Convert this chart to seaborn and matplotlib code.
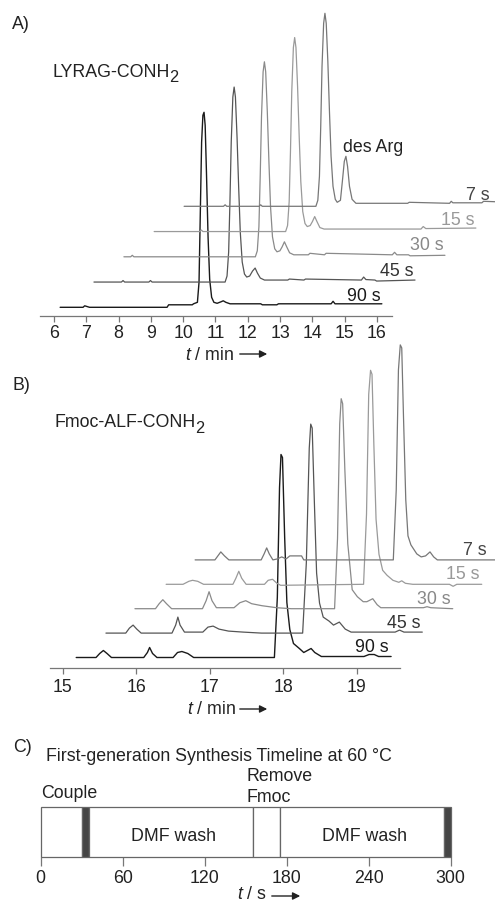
import numpy as np
import pandas as pd
import matplotlib
matplotlib.use("Agg")
import matplotlib.pyplot as plt
import seaborn as sns

# =============================================================================
# data
# retention time in min, signal in arbitrary units above the trace's own baseline
# stack order: 90 s in front, 7 s at the back
# =============================================================================

coupling_times = ["90 s", "45 s", "30 s", "15 s", "7 s"]

# A) LYRAG-CONH2
a90_t = [6.19, 6.90, 6.95, 7.00, 7.10, 9.50, 9.55, 10.28, 10.32, 10.44, 10.49, 10.53, 10.57,
         10.61, 10.645, 10.68, 10.72, 10.77, 10.82, 10.88, 10.95, 11.05, 11.17, 11.24, 11.32,
         11.45, 12.40, 12.45, 12.90, 12.95, 14.58, 14.64, 14.70, 16.15]
a90_y = [0, 0, 1.5, 1, 0, 0, 2.5, 2.5, 3.5, 5, 25, 95, 165,
         192, 195, 182, 135, 70, 28, 10, 5, 4, 5.5, 6.5, 5,
         3.5, 3.5, 2.5, 2.5, 3.5, 3.5, 6, 3.5, 3.5]

a45_t = [6.30, 7.15, 7.20, 7.25, 8.00, 8.05, 8.10, 10.36, 10.42, 10.47, 10.51, 10.55, 10.60,
         10.64, 10.68, 10.73, 10.78, 10.83, 10.89, 10.96, 11.03, 11.12, 11.21, 11.29, 11.36,
         11.45, 11.58, 12.30, 12.35, 12.80, 12.85, 14.58, 14.65, 14.72, 15.00, 15.05, 16.24]
a45_y = [0, 0, 1.5, 0, 0, 1.5, 0, 0, 6, 30, 80, 140, 185,
         195, 185, 145, 95, 50, 20, 8, 5, 6, 11, 14, 9,
         4, 2, 2, 3, 2, 3, 2, 5, 2.5, 2, 1, 2]

a30_t = [6.29, 6.50, 6.55, 6.60, 10.36, 10.42, 10.47, 10.51, 10.55, 10.60, 10.64, 10.68,
         10.73, 10.78, 10.83, 10.89, 10.96, 11.03, 11.12, 11.19, 11.26, 11.33, 11.42, 11.55,
         12.00, 12.05, 12.50, 12.55, 14.60, 14.67, 14.74, 15.10, 15.15, 16.23]
a30_y = [0, 0, 1.5, 0, 0, 6, 30, 80, 140, 185, 195, 185,
         145, 95, 50, 20, 8, 5, 6, 10, 15, 10, 4, 2,
         2, 3.5, 2, 3.5, 2, 4.5, 2, 2, 1, 1.5]

a15_t = [6.29, 7.70, 7.75, 7.80, 10.36, 10.42, 10.47, 10.51, 10.55, 10.60, 10.64, 10.68,
         10.73, 10.78, 10.83, 10.89, 10.96, 11.03, 11.12, 11.19, 11.26, 11.33, 11.42, 11.55,
         14.55, 14.62, 14.70, 16.25]
a15_y = [0, 0, 1.5, 0, 0, 6, 30, 80, 140, 184, 194, 184,
         145, 95, 50, 20, 8, 5, 6, 10, 15, 10, 4, 2.5,
         2.5, 5, 3, 3.5]

a7_t = [6.28, 7.50, 7.55, 7.60, 8.60, 8.65, 8.70, 10.36, 10.42, 10.47, 10.51, 10.55, 10.60,
        10.64, 10.68, 10.73, 10.78, 10.83, 10.89, 10.96, 11.02, 11.12, 11.18, 11.24, 11.29,
        11.34, 11.40, 11.48, 11.60, 13.20, 13.25, 14.50, 14.55, 14.60, 15.50, 15.55, 16.40]
a7_y = [0, 0, 1.5, 0, 0, 1.5, 0, 0, 6, 30, 80, 140, 183,
        193, 183, 145, 95, 50, 20, 7, 4, 6, 25, 45, 50,
        40, 20, 7, 3, 3, 4, 3, 5, 3.5, 3.5, 5, 4]

# B) Fmoc-ALF-CONH2
b90_t = [15.18, 15.45, 15.50, 15.55, 15.60, 15.66, 16.10, 16.15, 16.18, 16.22, 16.28, 16.50,
         16.56, 16.62, 16.70, 16.78, 17.88, 17.92, 17.95, 17.97, 17.99, 18.02, 18.05, 18.09,
         18.14, 18.22, 18.28, 18.33, 18.38, 18.43, 18.52, 19.10, 19.17, 19.24, 19.30, 19.47]
b90_y = [0, 0, 4, 7, 4, 0, 0, 5, 10, 4, 0, 0,
         5, 6, 4, 0, 0, 60, 170, 203, 200, 120, 55, 28,
         14, 9, 5, 7, 9, 5, 1, 1, 3, 3, 1, 1]

b45_t = [15.18, 15.45, 15.50, 15.55, 15.60, 15.66, 16.08, 16.13, 16.16, 16.19, 16.25, 16.50,
         16.57, 16.64, 16.72, 16.85, 17.05, 17.30, 17.86, 17.91, 17.95, 17.97, 17.99, 18.02,
         18.05, 18.09, 18.14, 18.22, 18.28, 18.36, 18.44, 18.52, 19.12, 19.18, 19.24, 19.49]
b45_y = [0, 0, 5, 8, 4, 0, 0, 8, 16, 8, 1, 1,
         6, 7, 4, 2, 1, 0, 0, 70, 185, 209, 205, 130,
         60, 30, 16, 12, 8, 11, 4, 1, 1, 3, 1, 1]

b30_t = [15.17, 15.45, 15.50, 15.55, 15.60, 15.67, 16.09, 16.14, 16.18, 16.22, 16.28, 16.52,
         16.60, 16.68, 16.76, 16.90, 17.10, 17.30, 17.89, 17.93, 17.96, 17.98, 18.00, 18.03,
         18.07, 18.13, 18.20, 18.28, 18.33, 18.41, 18.47, 18.52, 19.10, 19.15, 19.20, 19.50]
b30_y = [0, 0, 5, 9, 5, 0, 0, 8, 17, 8, 1, 1,
         6, 8, 5, 3, 1, 0, 0, 70, 185, 210, 205, 139,
         65, 19, 12, 7, 7, 10, 4, 1, 1, 2, 1, 0]

b15_t = [15.19, 15.42, 15.50, 15.55, 15.62, 15.70, 16.10, 16.14, 16.18, 16.22, 16.28, 16.53,
         16.58, 16.64, 16.70, 16.75, 17.88, 17.92, 17.95, 17.975, 17.995, 18.02, 18.05, 18.09,
         18.14, 18.20, 18.28, 18.36, 18.40, 18.45, 18.55, 19.05, 19.10, 19.15, 19.49]
b15_y = [0, 0, 3, 4, 3, 0, 0, 6, 13, 6, 0, 0,
         4, 5, 1, -1, 0, 70, 190, 214, 210, 140, 65, 30,
         14, 9, 4, 2, 3.5, 1, 0, 0, -2, 0, 0]

b7_t = [15.18, 15.45, 15.49, 15.53, 15.58, 15.64, 16.08, 16.12, 16.155, 16.19, 16.24, 16.30,
        16.36, 16.42, 16.47, 16.63, 16.66, 17.88, 17.92, 17.95, 17.975, 17.995, 18.02, 18.05,
        18.08, 18.12, 18.20, 18.26, 18.32, 18.38, 18.43, 18.48, 19.50]
b7_y = [0, 0, 4, 8, 4, 0, 0, 6, 12, 6, 0, 1,
        3, 1, 4, 4, 0, 0, 70, 190, 215, 212, 140, 60,
        24, 15, 6, 3, 4, 8, 3, 0, 0]

# C) synthesis timeline (s)
seg_start = [0, 30, 35, 155, 175, 295]
seg_end = [30, 35, 155, 175, 295, 300]
seg_kind = ["couple", "drain", "wash", "deprotect", "wash", "drain"]
seg_text = ["", "", "DMF wash", "", "DMF wash", ""]

a_ticks = list(range(6, 17))
b_ticks = [15, 16, 17, 18, 19]
c_ticks = [0, 60, 120, 180, 240, 300]

# =============================================================================
# style
# =============================================================================

sns.set_style("white")
plt.rcParams["font.family"] = ["Liberation Sans", "DejaVu Sans"]
plt.rcParams["mathtext.fontset"] = "custom"
plt.rcParams["mathtext.rm"] = "Liberation Sans"
plt.rcParams["mathtext.it"] = "Liberation Sans:italic"

W, H = 495, 904
FS = 12.8
TXT = "#222222"
AXC = "#777777"
line_colors = ["#1a1a1a", "#555555", "#8a8a8a", "#9a9a9a", "#777777"]
label_colors = ["#1a1a1a", "#333333", "#888888", "#999999", "#444444"]

fig = plt.figure(figsize=(W / 100, H / 100), dpi=100)
renderer = fig.canvas.get_renderer()


def px_axes(x0, y0, x1, y1):
    """axes from pixel box (top based)"""
    return fig.add_axes([x0 / W, 1 - y1 / H, (x1 - x0) / W, (y1 - y0) / H])


def px_text(x, y, s, **kw):
    kw.setdefault("fontsize", FS)
    kw.setdefault("color", TXT)
    return fig.text(x / W, 1 - y / H, s, **kw)


def px_formula(x, y, main, sub, drop):
    # peptide name with a near full-size subscript, as in the original artwork
    t = px_text(x, y, main, va="baseline")
    w = t.get_window_extent(renderer).width
    px_text(x + w - 1.5, y + drop, sub, va="baseline", fontsize=FS * 0.92)


def px_arrow(x0, x1, y):
    fig.add_artist(matplotlib.patches.FancyArrowPatch(
        (x0 / W, 1 - y / H), (x1 / W, 1 - y / H), transform=fig.transFigure,
        arrowstyle="-|>", mutation_scale=11, color=TXT, lw=1.0))


def draw_stack(ax, traces, dx, dy, lab_dy, lab_cap, lab_back):
    for i, (t, y) in enumerate(traces):
        df = pd.DataFrame({"t": np.asarray(t) + i * dx, "y": np.asarray(y) + i * dy})
        sns.lineplot(data=df, x="t", y="y", ax=ax, color=line_colors[i],
                     lw=1.0 if i == 0 else 0.9, estimator=None, sort=False)
        xr = min(t[-1] + i * dx - lab_back, lab_cap)
        ax.text(xr, i * dy + lab_dy, coupling_times[i], ha="right", va="baseline",
                fontsize=FS, color=label_colors[i])


def style_axis(ax, ticks, lo, hi, pad):
    for s in ["left", "right", "top"]:
        ax.spines[s].set_visible(False)
    ax.spines["bottom"].set_color(AXC)
    ax.spines["bottom"].set_linewidth(0.9)
    ax.spines["bottom"].set_bounds(lo, hi)
    ax.set_xticks(ticks)
    ax.set_xticklabels([str(v) for v in ticks])
    ax.set_yticks([])
    ax.tick_params(axis="x", direction="out", length=4.3, width=0.9, color=AXC,
                   labelsize=FS, labelcolor=TXT, pad=pad, bottom=True)
    ax.set_xlabel("")
    ax.set_ylabel("")
    ax.patch.set_alpha(0)


# ---- panel A
ax_a = px_axes(0, 0, W, 317.3)
draw_stack(ax_a, [(a90_t, a90_y), (a45_t, a45_y), (a30_t, a30_y), (a15_t, a15_y), (a7_t, a7_y)],
           dx=0.937, dy=25.25, lab_dy=7.5, lab_cap=19.50, lab_back=0.05)
ax_a.set_xlim(6 - 54 / 32.3, 6 + 441 / 32.3)
ax_a.set_ylim(-9.0, 308.3)
style_axis(ax_a, a_ticks, 5.567, 16.464, 1.5)

# ---- panel B
ax_b = px_axes(0, 330, W, 669)
draw_stack(ax_b, [(b90_t, b90_y), (b45_t, b45_y), (b30_t, b30_y), (b15_t, b15_y), (b7_t, b7_y)],
           dx=0.405, dy=24.4, lab_dy=6.0, lab_cap=20.77, lab_back=0.03)
ax_b.set_xlim(15 - 63 / 73.4, 15 + 432 / 73.4)
ax_b.set_ylim(-10.5, 328.5)
style_axis(ax_b, b_ticks, 14.823, 19.591, 3.0)

# ---- panel C
ax_c = px_axes(40.7, 807.7, 450.7, 858.3)
fills = {"couple": "white", "drain": "#454545", "wash": "white", "deprotect": "white"}
for s0, s1, kind, txt in zip(seg_start, seg_end, seg_kind, seg_text):
    ax_c.barh(0.5, s1 - s0, left=s0, height=1.0, color=fills[kind],
              edgecolor="#666666", linewidth=0.9, clip_on=False)
    if txt:
        ax_c.text((s0 + s1) / 2 + 2, 0.43, txt, ha="center", va="center",
                  fontsize=FS, color=TXT)
ax_c.set_xlim(0, 300)
ax_c.set_ylim(0, 1)
for s in ["left", "right", "top", "bottom"]:
    ax_c.spines[s].set_visible(False)
ax_c.set_xticks(c_ticks)
ax_c.set_xticklabels([str(v) for v in c_ticks])
ax_c.set_yticks([])
ax_c.tick_params(axis="x", direction="out", length=6.2, width=0.9, color=AXC,
                 labelsize=FS, labelcolor=TXT, pad=2.5, bottom=True)
ax_c.patch.set_alpha(0)

# ---- text
px_text(12, 24.5, "A)", va="center")
px_formula(53, 76.7, "LYRAG-CONH", "2", 5)
px_text(343, 151.7, "des Arg", va="baseline")
px_text(185, 360, "$t$ / min", va="baseline")
px_arrow(237, 270, 355)

px_text(13, 385.5, "B)", va="center")
px_formula(55, 426.7, "Fmoc-ALF-CONH", "2", 6)
px_text(187, 714.3, "$t$ / min", va="baseline")
px_arrow(237, 270, 710)

px_text(13, 747.5, "C)", va="center")
px_text(46, 761, "First-generation Synthesis Timeline at 60 \u00b0C", va="baseline")
px_text(41, 798.3, "Couple", va="baseline")
px_text(246, 780.7, "Remove", va="baseline")
px_text(246, 801.7, "Fmoc", va="baseline")
px_text(237, 903.5, "$t$ / s", va="bottom")
px_arrow(269, 303, 897)

fig.savefig("out.png", dpi=100)
